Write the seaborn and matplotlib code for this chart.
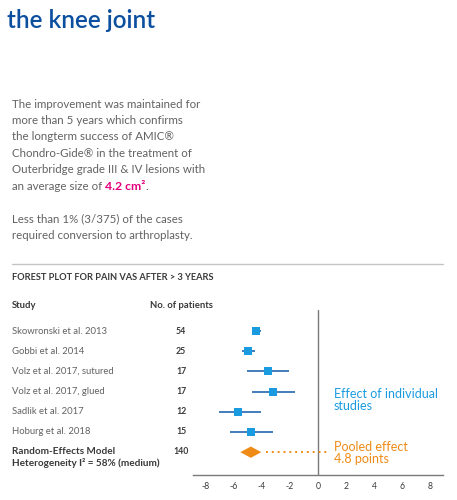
import pandas as pd
import seaborn as sns
import matplotlib.pyplot as plt
import matplotlib.transforms as mtransforms
from matplotlib.lines import Line2D

# data
studies = ['Skowronski et al. 2013', 'Gobbi et al. 2014', 'Volz et al. 2017, sutured',
           'Volz et al. 2017, glued', 'Sadlik et al. 2017', 'Hoburg et al. 2018']
patients = [54, 25, 17, 17, 12, 15]
effect = [-4.4, -5.0, -3.6, -3.2, -5.7, -4.8]
ci_low = [-4.7, -5.4, -5.05, -4.7, -7.1, -6.3]
ci_high = [-4.1, -4.5, -2.05, -1.65, -4.1, -3.25]
pooled_n = 140
pooled_effect = -4.8
pooled_low = -5.55
pooled_high = -4.05
xticks = [-8, -6, -4, -2, 0, 2, 4, 6, 8]

BLUE_TITLE = '#0c4f9e'
GREY_TEXT = '#626262'
DARK_TEXT = '#3a3a3a'
SQ_BLUE = '#1a9be0'
CI_BLUE = '#2367b0'
ORANGE = '#ef8b17'
PINK = '#e4007d'

sns.set_style('white')
plt.rcParams['font.family'] = ['Lato', 'DejaVu Sans']

W, H = 457, 500
fig = plt.figure(figsize=(W / 100, H / 100), dpi=100)


def fx(x):
    return x / W


def fy(y):
    return 1 - y / H


# title
fig.text(fx(7), fy(20), 'the knee joint', fontsize=17.5, color=BLUE_TITLE,
         fontweight='semibold', va='center', ha='left')

# paragraph
PSIZE = 8.25
para = ['The improvement was maintained for',
        'more than 5 years which confirms',
        'the longterm success of AMIC®',
        'Chondro-Gide® in the treatment of',
        'Outerbridge grade III & IV lesions with']
line_y = [104, 120, 136, 153, 169]
for txt, y in zip(para, line_y):
    fig.text(fx(12), fy(y + 4), txt, fontsize=PSIZE, color=GREY_TEXT, va='baseline')
t_last = fig.text(fx(12), fy(190), 'an average size of ', fontsize=PSIZE,
                  color=GREY_TEXT, va='baseline')
fig.canvas.draw()
bb = t_last.get_window_extent()
t_pink = fig.text(bb.x1 / W, fy(190), '4.2 cm²', fontsize=8.8, color=PINK,
                  fontweight='bold', va='baseline')
fig.canvas.draw()
bb2 = t_pink.get_window_extent()
fig.text(bb2.x1 / W, fy(190), '.', fontsize=PSIZE, color=GREY_TEXT, va='baseline')

fig.text(fx(12), fy(222), 'Less than 1% (3/375) of the cases', fontsize=PSIZE,
         color=GREY_TEXT, va='baseline')
fig.text(fx(12), fy(239), 'required conversion to arthroplasty.', fontsize=PSIZE,
         color=GREY_TEXT, va='baseline')

# rule and section header
fig.add_artist(Line2D([fx(12), fx(443)], [fy(264), fy(264)], color='#c4c4c4', lw=1))
fig.text(fx(12), fy(278), 'FOREST PLOT FOR PAIN VAS AFTER > 3 YEARS', fontsize=6.7,
         color=DARK_TEXT, fontweight='bold', va='center')
fig.text(fx(12), fy(305), 'Study', fontsize=6.8, color=DARK_TEXT,
         fontweight='bold', va='center')
fig.text(fx(181), fy(305), 'No. of patients', fontsize=6.8, color=DARK_TEXT,
         fontweight='bold', va='center', ha='center')

# forest plot axes
ax = fig.add_axes([fx(193), fy(475), fx(443) - fx(193), (475 - 310) / H])
df = pd.DataFrame({'study': studies, 'n': patients, 'effect': effect,
                   'lo': ci_low, 'hi': ci_high})
df['row'] = range(len(df))
pooled_row = len(df)

ax.hlines(df['row'], df['lo'], df['hi'], color=CI_BLUE, lw=1.2, zorder=2)
sns.scatterplot(data=df, x='effect', y='row', marker='s', s=28, color=SQ_BLUE,
                edgecolor=SQ_BLUE, linewidth=0, zorder=3, ax=ax, legend=False)

dh = 0.28
ax.fill([pooled_low, pooled_effect, pooled_high, pooled_effect],
        [pooled_row, pooled_row - dh, pooled_row, pooled_row + dh],
        color=ORANGE, lw=0, zorder=3)
ax.plot([pooled_high + 0.3, 0.7], [pooled_row, pooled_row], color=ORANGE,
        lw=1.4, ls=(0, (1, 2)), zorder=2)

ax.axvline(0, color='#7a7a7a', lw=1, zorder=1)
ax.set_xlim(-8.93, 8.93)
ax.set_ylim(pooled_row + 1.13, -1.04)
ax.set_xticks(xticks)
ax.set_xticklabels([str(t) for t in xticks])
ax.set_yticks([])
ax.set_xlabel('')
ax.set_ylabel('')
for side in ['top', 'right', 'left']:
    ax.spines[side].set_visible(False)
ax.spines['bottom'].set_color('#7a7a7a')
ax.spines['bottom'].set_linewidth(1)
ax.tick_params(axis='x', direction='out', length=3, width=0.8, color='#7a7a7a',
               labelsize=6.2, labelcolor=DARK_TEXT, pad=2)
ax.patch.set_alpha(0)

# left columns
trans = mtransforms.blended_transform_factory(fig.transFigure, ax.transData)
for i, row in df.iterrows():
    ax.text(fx(12), row['row'], row['study'], transform=trans, fontsize=6.8,
            color=GREY_TEXT, va='center', clip_on=False)
    ax.text(fx(181), row['row'], str(row['n']), transform=trans, fontsize=6.3,
            color=DARK_TEXT, fontweight='bold', va='center', ha='center', clip_on=False)
ax.text(fx(12), pooled_row - 0.05, 'Random-Effects Model', transform=trans,
        fontsize=7.2, color=DARK_TEXT, fontweight='bold', va='center', clip_on=False)
ax.text(fx(12), pooled_row + 0.55, 'Heterogeneity I² = 58% (medium)', transform=trans,
        fontsize=7.2, color=DARK_TEXT, fontweight='bold', va='center', clip_on=False)
ax.text(fx(181), pooled_row - 0.05, str(pooled_n), transform=trans, fontsize=6.3,
        color=DARK_TEXT, fontweight='bold', va='center', ha='center', clip_on=False)

# annotations on the right
fig.text(fx(334), fy(400), 'Effect of individual\nstudies', fontsize=9,
         color=SQ_BLUE, va='center', linespacing=1.05)
fig.text(fx(334), fy(453), 'Pooled effect\n4.8 points', fontsize=9,
         color=ORANGE, va='center', linespacing=1.05)

fig.savefig('out.png', dpi=100)
